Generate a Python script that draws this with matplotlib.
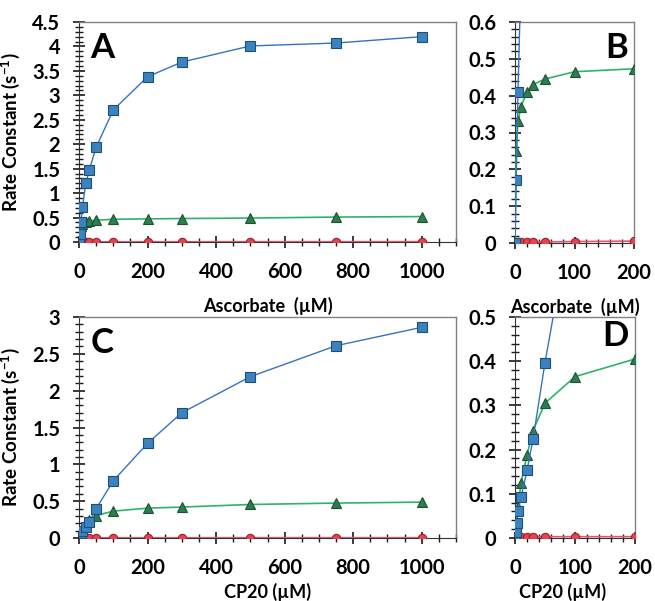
import matplotlib
matplotlib.use('Agg')
import matplotlib.pyplot as plt
from matplotlib.ticker import MultipleLocator

plt.rcParams['font.family'] = ['Lato', 'DejaVu Sans']
plt.rcParams['font.weight'] = 'bold'
plt.rcParams['mathtext.fontset'] = 'custom'
plt.rcParams['mathtext.bf'] = 'Lato:bold'
plt.rcParams['mathtext.rm'] = 'Lato:bold'

# Ascorbate series (panels A, B)
asc_blue_x = [0, 2, 5, 10, 20, 30, 50, 100, 200, 300, 500, 750, 1000]
asc_blue_y = [0.0, 0.17, 0.41, 0.72, 1.20, 1.47, 1.94, 2.70, 3.38, 3.68, 4.01, 4.07, 4.20]
asc_green_x = [0, 2, 5, 10, 20, 30, 50, 100, 200, 300, 500, 750, 1000]
asc_green_y = [0.0, 0.25, 0.33, 0.37, 0.41, 0.43, 0.445, 0.465, 0.473, 0.48, 0.49, 0.51, 0.52]
asc_red_x = [0, 5, 10, 20, 30, 50, 100, 200, 300, 500, 750, 1000]
asc_red_y = [0.0, 0.002, 0.002, 0.003, 0.003, 0.003, 0.004, 0.005, 0.005, 0.006, 0.006, 0.007]

# CP20 series (panels C, D)
cp_blue_x = [0, 1, 3, 5, 10, 20, 30, 50, 100, 200, 300, 500, 750, 1000]
cp_blue_y = [0.0, 0.013, 0.034, 0.062, 0.092, 0.153, 0.223, 0.397, 0.776, 1.285, 1.70, 2.19, 2.61, 2.86]
cp_green_x = [0, 5, 10, 20, 30, 50, 100, 200, 300, 500, 750, 1000]
cp_green_y = [0.0, 0.07, 0.124, 0.188, 0.243, 0.305, 0.365, 0.405, 0.42, 0.455, 0.474, 0.487]
cp_red_x = [0, 5, 10, 20, 30, 50, 100, 200, 300, 500, 750, 1000]
cp_red_y = [0.0, 0.002, 0.002, 0.003, 0.003, 0.003, 0.003, 0.003, 0.003, 0.004, 0.004, 0.004]

ticksA = [0, 0.5, 1, 1.5, 2, 2.5, 3, 3.5, 4, 4.5]
ticksB = [0, 0.1, 0.2, 0.3, 0.4, 0.5, 0.6]
ticksC = [0, 0.5, 1, 1.5, 2, 2.5, 3]
ticksD = [0, 0.1, 0.2, 0.3, 0.4, 0.5]
xticks_big = [0, 200, 400, 600, 800, 1000]
xticks_small = [0, 100, 200]

blue_line = '#3574bd'
green_line = '#2eb36c'
red_line = '#e2556a'

fig = plt.figure(figsize=(6.55, 6.01), dpi=100)
W, H = 655.0, 601.0

def box(l, t, r, b):
    return [l / W, 1 - b / H, (r - l) / W, (b - t) / H]

axA = fig.add_axes(box(79, 22, 456, 242))
axB = fig.add_axes(box(515, 22, 634, 243))
axC = fig.add_axes(box(79, 317, 456, 538))
axD = fig.add_axes(box(515, 317, 635, 538))


def draw(ax, bx, by, gx, gy, rx, ry):
    ax.plot(rx, ry, '-', color=red_line, lw=1.2, marker='o', ms=6,
            mfc='#e5434f', mec='#9c1f2a', mew=0.8, zorder=5)
    ax.plot(gx, gy, '-', color=green_line, lw=1.2, marker='^', ms=6.5,
            mfc='#2e7d4f', mec='#1b5234', mew=0.8, zorder=6)
    ax.plot(bx, by, '-', color=blue_line, lw=1.0, marker='s', ms=6.5,
            mfc='#3b82c0', mec='#1f4e79', mew=0.8, zorder=7)


def style(ax, xmax, xmin, ymax, ymin, xt, yt):
    ax.set_xlim(0, xmax)
    ax.set_ylim(0, ymax)
    ax.set_xticks(xt)
    ax.set_xticklabels([str(v) for v in xt], fontweight='bold')
    ax.set_yticks(yt)
    ax.set_yticklabels(['%g' % v for v in yt], fontweight='bold')
    ax.xaxis.set_minor_locator(MultipleLocator(xmin))
    ax.yaxis.set_minor_locator(MultipleLocator(ymin))
    ax.tick_params(which='major', direction='inout', length=8, width=1.2,
                   labelsize=14.5, color='#1a1a1a')
    ax.tick_params(which='minor', direction='inout', length=5.5, width=1.0,
                   color='#1a1a1a')
    ax.tick_params(axis='y', which='major', pad=9.5)
    ax.tick_params(axis='x', which='major', pad=10.5)
    for s in ['top', 'right']:
        ax.spines[s].set_color('#808080')
        ax.spines[s].set_linewidth(1.0)
    ax.spines['left'].set_color('#333333')
    ax.spines['bottom'].set_color('#333333')


draw(axA, asc_blue_x, asc_blue_y, asc_green_x, asc_green_y, asc_red_x, asc_red_y)
style(axA, 1100, 50, 4.5, 0.1, xticks_big, ticksA)

draw(axB, asc_blue_x, asc_blue_y, asc_green_x, asc_green_y, asc_red_x, asc_red_y)
style(axB, 200, 20, 0.6, 0.02, xticks_small, ticksB)

draw(axC, cp_blue_x, cp_blue_y, cp_green_x, cp_green_y, cp_red_x, cp_red_y)
style(axC, 1100, 50, 3, 0.1, xticks_big, ticksC)

draw(axD, cp_blue_x, cp_blue_y, cp_green_x, cp_green_y, cp_red_x, cp_red_y)
style(axD, 200, 20, 0.5, 0.02, xticks_small, ticksD)

# panel letters
axA.text(0.03, 0.955, 'A', transform=axA.transAxes, fontsize=25,
         fontweight='bold', ha='left', va='top')
axB.text(0.95, 0.955, 'B', transform=axB.transAxes, fontsize=25,
         fontweight='bold', ha='right', va='top')
axC.text(0.03, 0.955, 'C', transform=axC.transAxes, fontsize=25,
         fontweight='bold', ha='left', va='top')
axD.text(0.95, 0.985, 'D', transform=axD.transAxes, fontsize=25,
         fontweight='bold', ha='right', va='top')

# axis labels
ylab = 'Rate Constant (s$^{-1}$)'
axA.set_ylabel(ylab, fontsize=13.5, fontweight='bold')
axC.set_ylabel(ylab, fontsize=13.5, fontweight='bold')
axA.yaxis.set_label_coords(-0.15, 0.5)
axC.yaxis.set_label_coords(-0.15, 0.5)

axA.set_xlabel('Ascorbate  (µM)', fontsize=13, fontweight='bold')
axB.set_xlabel('Ascorbate  (µM)', fontsize=13, fontweight='bold')
axC.set_xlabel('CP20 (µM)', fontsize=13, fontweight='bold')
axD.set_xlabel('CP20 (µM)', fontsize=13, fontweight='bold')
axA.xaxis.set_label_coords(0.5, -0.25)
axB.xaxis.set_label_coords(0.5, -0.25)
axC.xaxis.set_label_coords(0.5, -0.205)
axD.xaxis.set_label_coords(0.4, -0.205)

fig.savefig('out.png', dpi=100)
